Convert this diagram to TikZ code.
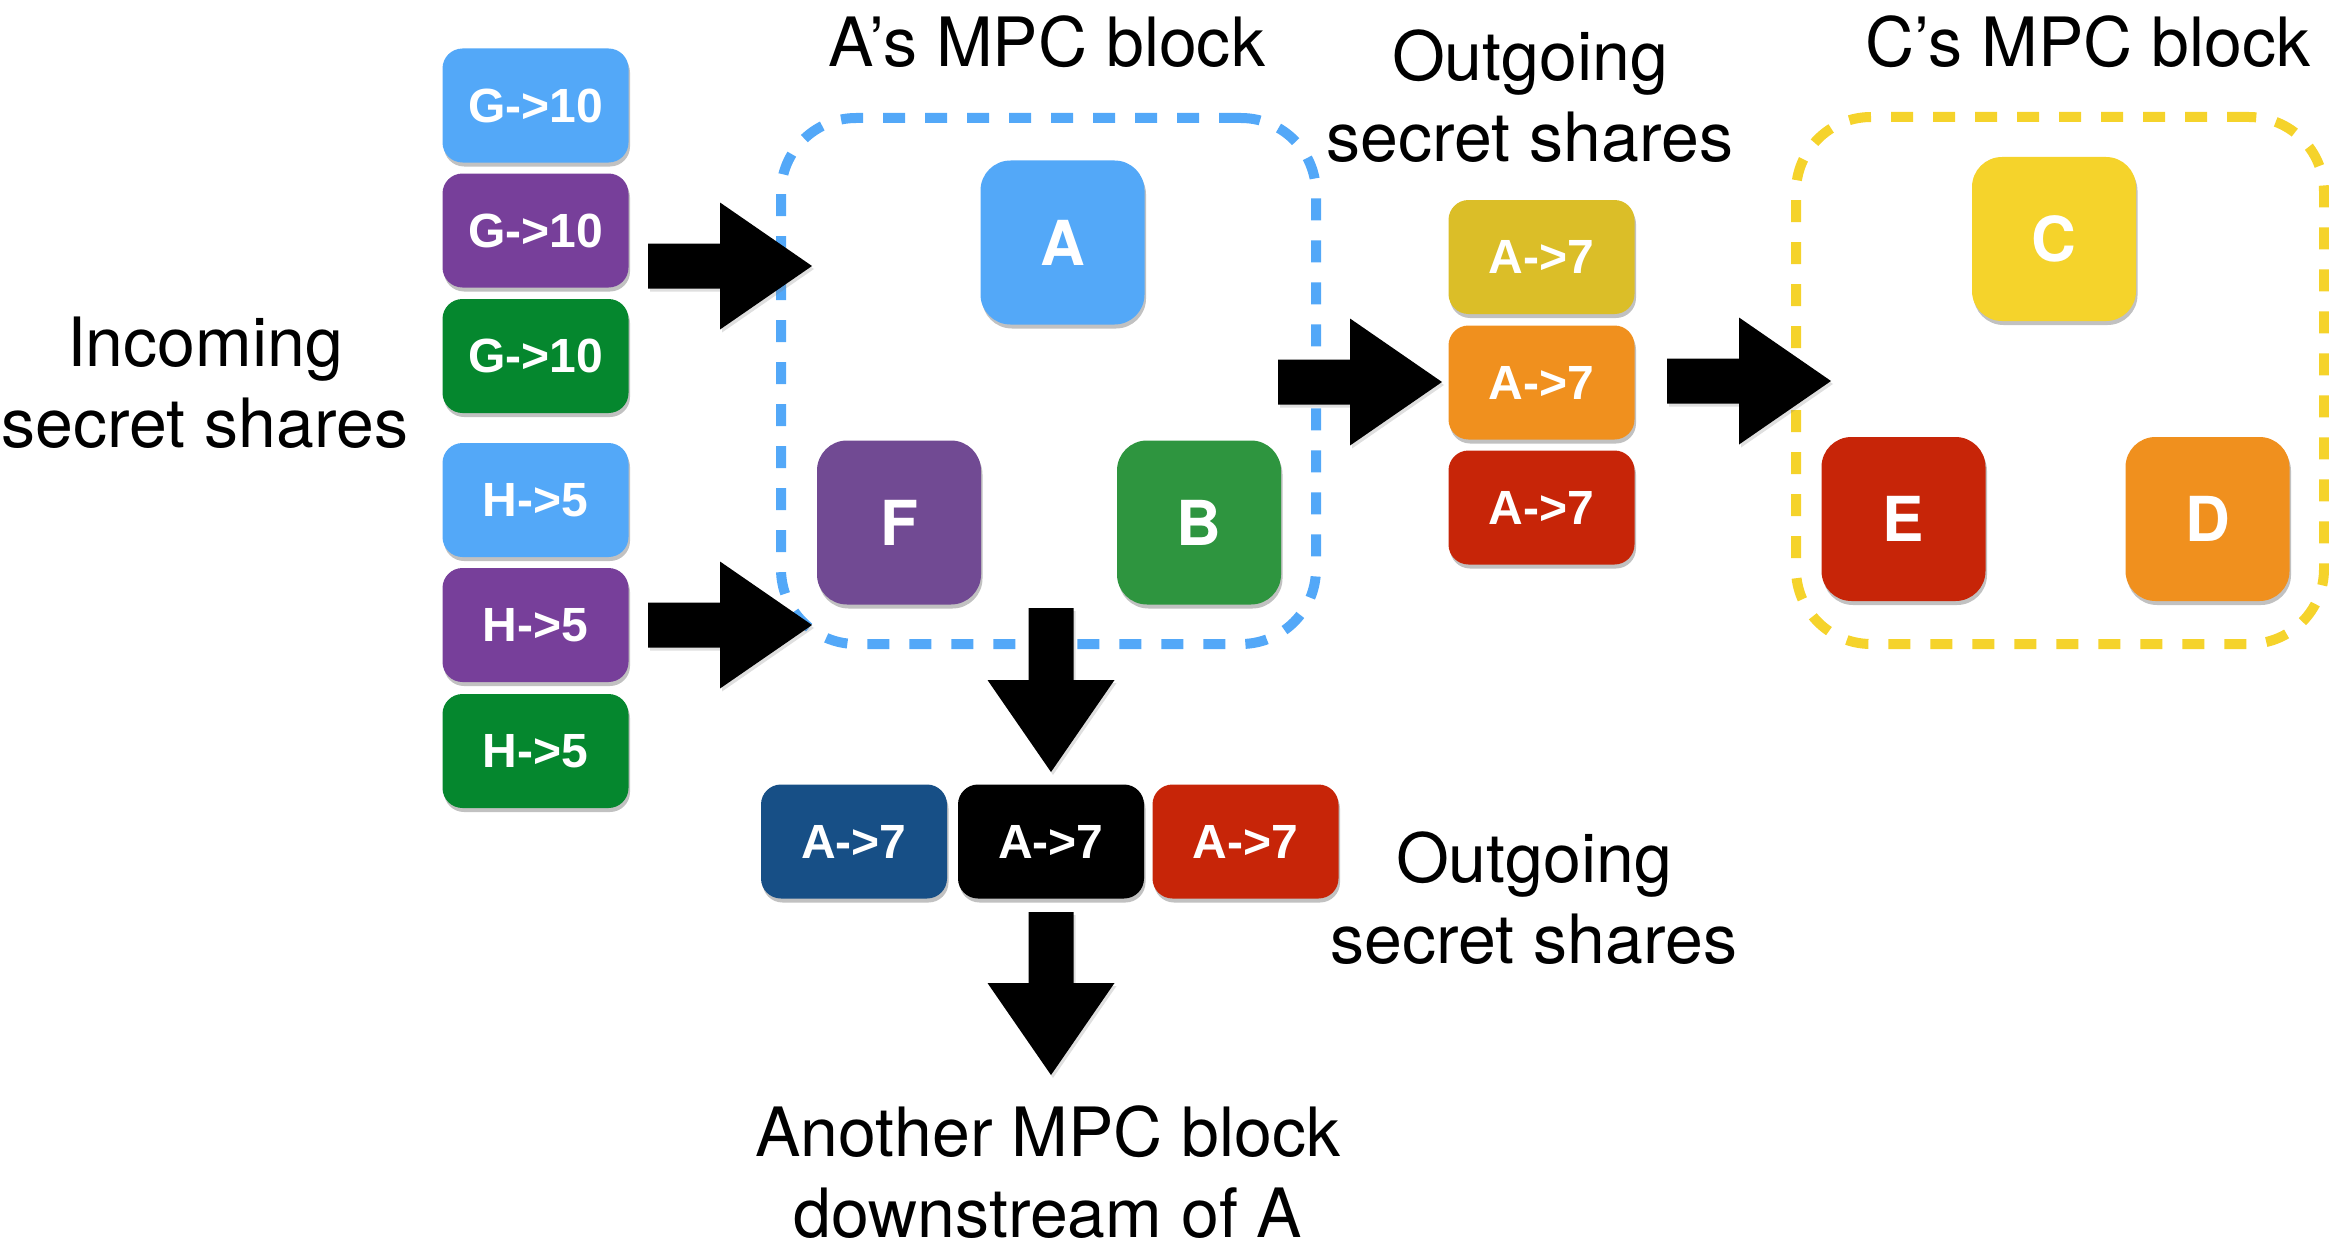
\documentclass[tikz,border=0pt]{standalone}
\usepackage{fontspec}
\setmainfont{TeX Gyre Heros}
\newfontfamily\tilefont{Liberation Sans}
\usetikzlibrary{calc,shadows}

\definecolor{skyblue}{HTML}{53A8F8}
\definecolor{plum}{HTML}{773F9A}
\definecolor{plumtile}{HTML}{714A93}
\definecolor{leaf}{HTML}{05872E}
\definecolor{leaftile}{HTML}{2E953F}
\definecolor{mustard}{HTML}{DBBE28}
\definecolor{sun}{HTML}{F5D32B}
\definecolor{tangerine}{HTML}{F0901E}
\definecolor{brick}{HTML}{C72508}
\definecolor{navy}{HTML}{174F86}

\begin{document}
\begin{tikzpicture}[x=1pt,y=-1pt,
  softshadow/.style={drop shadow={shadow xshift=1.5pt,shadow yshift=-4pt,opacity=.35,fill=black!70}},
  share/.style={rounded corners=20pt,minimum width=186pt,minimum height=114pt,inner sep=0pt,
    text=white,font=\tilefont\fontsize{48}{48}\selectfont\bfseries,softshadow},
  party/.style={rounded corners=30pt,minimum width=164pt,minimum height=164pt,inner sep=0pt,
    text=white,font=\fontsize{62}{62}\selectfont\bfseries,softshadow},
  mpcblock/.style={draw,rounded corners=75pt,line width=10pt,dash pattern=on 22pt off 20pt,inner sep=0pt},
  % two-line captions are placed by the baseline of their last line
  caption/.style={font=\fontsize{68}{80.5}\selectfont,align=center,inner sep=0pt,anchor=base},
  % block arrow: shaft 45pt wide, head 127pt wide and 92pt long
  fatarrow/.style={fill=black,drop shadow={shadow xshift=2pt,shadow yshift=-3pt,opacity=.25},
    to path={
      ($(\tikztotarget)!92pt!(\tikztostart)$) coordinate (fabase)
      ($(\tikztostart)!22.5pt!90:(\tikztotarget)$)
      -- ($(fabase)!22.5pt!-90:(\tikztostart)$)
      -- ($(fabase)!63.5pt!-90:(\tikztostart)$)
      -- (\tikztotarget)
      -- ($(fabase)!63.5pt!90:(\tikztostart)$)
      -- ($(fabase)!22.5pt!90:(\tikztostart)$)
      -- ($(\tikztostart)!22.5pt!-90:(\tikztotarget)$)
      -- cycle}}
]
\useasboundingbox (0,0) rectangle (2329,1244);

% MPC blocks
\node[mpcblock,draw=skyblue,minimum width=535pt,minimum height=526pt] (blockA) at (1048.5,381) {};
\node[mpcblock,draw=sun,minimum width=528pt,minimum height=527pt] (blockC) at (2060,380.5) {};

% parties
\node[party,fill=skyblue] (A) at (1062.5,242.5) {A};
\node[party,fill=plumtile] (F) at (899,522.5) {F};
\node[party,fill=leaftile] (B) at (1199,522.5) {B};
\node[party,fill=sun] (C) at (2054,239) {C};
\node[party,fill=brick] (E) at (1903.5,519) {E};
\node[party,fill=tangerine] (D) at (2207.5,519) {D};

% incoming shares
\node[share,fill=skyblue] (g1) at (535.5,105.5) {G->10};
\node[share,fill=plum] (g2) at (535.5,230.5) {G->10};
\node[share,fill=leaf] (g3) at (535.5,356) {G->10};
\node[share,fill=skyblue] (h1) at (535.5,500) {H->5};
\node[share,fill=plum] (h2) at (535.5,625) {H->5};
\node[share,fill=leaf] (h3) at (535.5,751) {H->5};

% outgoing shares towards C's block
\node[share,fill=mustard] (o1) at (1541.5,257) {A->7};
\node[share,fill=tangerine] (o2) at (1541.5,382.5) {A->7};
\node[share,fill=brick] (o3) at (1541.5,507.5) {A->7};

% outgoing shares downstream
\node[share,fill=navy] (d1) at (854,841.5) {A->7};
\node[share,fill=black] (d2) at (1051,841.5) {A->7};
\node[share,fill=brick] (d3) at (1245.5,841.5) {A->7};

% arrow end points
\coordinate (inG) at (648,266);
\coordinate (inGtip) at (812,266);
\coordinate (inH) at (648,625);
\coordinate (inHtip) at (812,625);
\coordinate (outA) at (1278,382);
\coordinate (outAtip) at (1442,382);
\coordinate (toC) at (1667,381);
\coordinate (toCtip) at (1831,381);
\coordinate (downA) at (1051,608);
\coordinate (downAtip) at (1051,772);
\coordinate (nextblk) at (1051,912);
\coordinate (nextblktip) at (1051,1075);

\path[fatarrow] (inG) to (inGtip);
\path[fatarrow] (inH) to (inHtip);
\path[fatarrow] (outA) to (outAtip);
\path[fatarrow] (toC) to (toCtip);
\path[fatarrow] (downA) to (downAtip);
\path[fatarrow] (nextblk) to (nextblktip);

% captions
\node[caption] (incoming) at (205,447) {Incoming\\secret shares};
\node[caption] (alabel) at (1047,67) {A’s MPC block};
\node[caption] (outtop) at (1530,161) {Outgoing\\secret shares};
\node[caption] (clabel) at (2088,67) {C’s MPC block};
\node[caption] (outbottom) at (1534,963) {Outgoing\\secret shares};
\node[caption] (downstream) at (1048,1237) {Another MPC block\\downstream of A};
\end{tikzpicture}
\end{document}
